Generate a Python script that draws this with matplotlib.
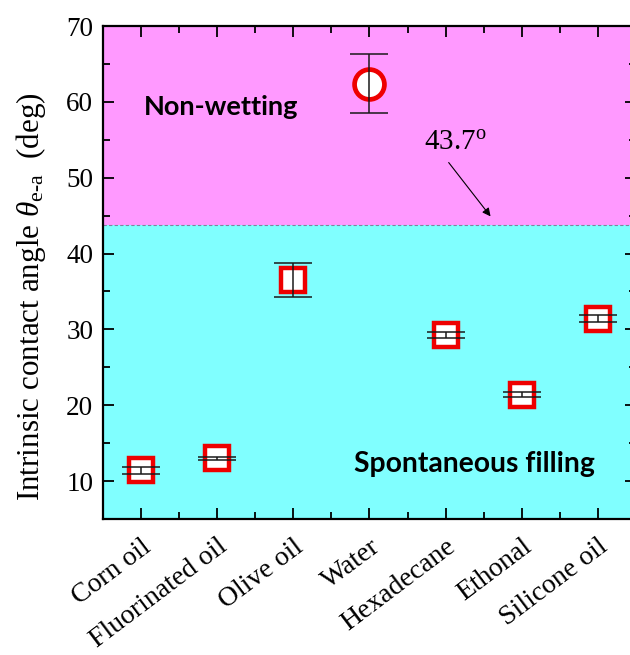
import matplotlib

matplotlib.use("Agg")
import matplotlib.pyplot as plt
import matplotlib.transforms as mtransforms
from matplotlib.ticker import MultipleLocator

# data
liquids = ["Corn oil", "Fluorinated oil", "Olive oil", "Water",
           "Hexadecane", "Ethonal", "Silicone oil"]
angles = [11.4, 13.0, 36.5, 62.4, 29.3, 21.4, 31.4]
errors = [0.4, 0.2, 2.2, 3.9, 0.4, 0.3, 0.45]
threshold = 43.7

plt.rcParams["font.family"] = "Liberation Serif"
plt.rcParams["mathtext.fontset"] = "custom"
plt.rcParams["mathtext.rm"] = "Liberation Serif"
plt.rcParams["mathtext.it"] = "Liberation Serif:italic"

fig = plt.figure(figsize=(6.3, 6.55), dpi=100)
ax = fig.add_axes([0.1635, 0.2076, 0.846, 0.7527])

ymin, ymax = 5, 70
ax.axhspan(threshold, ymax, color="#ff99ff", lw=0, zorder=0)
ax.axhspan(ymin, threshold, color="#80ffff", lw=0, zorder=0)
ax.axhline(threshold, color="#8080a0", lw=0.8, ls=(0, (3, 2)), zorder=1)

x = list(range(len(liquids)))
for i, (xi, yi) in enumerate(zip(x, angles)):
    if liquids[i] == "Water":
        ax.plot(xi, yi, "o", ms=21.5, mfc="white", mec="#ee0000", mew=3.4, zorder=3)
    else:
        ax.plot(xi, yi, "s", ms=17, mfc="white", mec="#ee0000", mew=3.2, zorder=3)
ax.errorbar(x, angles, yerr=errors, fmt="none", ecolor="#1a1a1a",
            elinewidth=1.1, capsize=14, capthick=1.1, zorder=4)

ax.set_xlim(-0.5, len(liquids) - 0.5)
ax.set_ylim(ymin, ymax)
ax.set_xticks(x)
ax.set_xticklabels(liquids, rotation=37, ha="right", va="top",
                   rotation_mode="anchor", fontsize=20)
shift = mtransforms.ScaledTranslation(12 / 100, 0, fig.dpi_scale_trans)
for lbl in ax.get_xticklabels():
    lbl.set_transform(lbl.get_transform() + shift)
ax.xaxis.set_minor_locator(MultipleLocator(0.5))
ax.yaxis.set_major_locator(MultipleLocator(10))
ax.yaxis.set_minor_locator(MultipleLocator(5))
ax.tick_params(axis="both", which="both", direction="in",
               top=True, right=True, width=1.3)
ax.tick_params(axis="both", which="major", length=8)
ax.tick_params(axis="y", which="major", labelsize=19.5, pad=7)
ax.tick_params(axis="both", which="minor", length=5)
ax.tick_params(axis="x", which="major", pad=11)
for sp in ax.spines.values():
    sp.set_linewidth(1.6)

fig.text(14 / 630, 1 - 297 / 655,
         r"Intrinsic contact angle $\theta_{\rm e\text{-}a}$  (deg)",
         fontsize=22.4, rotation=90, ha="left", va="center")

ax.text(0.04, 59.3, "Non-wetting", fontfamily="Lato", fontweight="bold",
        fontsize=19.5, ha="left", va="center", zorder=5)
ax.text(5.96, 12.2, "Spontaneous filling", fontfamily="Lato",
        fontweight="bold", fontsize=20.3, ha="right", va="center", zorder=5)
ax.text(3.72, 54.6, r"43.7$^{\rm o}$", fontsize=21, ha="left", va="center",
        zorder=5)
ax.annotate("", xy=(4.59, 44.9), xytext=(4.04, 52.0),
            arrowprops=dict(arrowstyle="-|>", color="black", lw=0.8,
                            shrinkA=0, shrinkB=0, mutation_scale=12),
            zorder=5)

fig.savefig("out.png", dpi=100)
